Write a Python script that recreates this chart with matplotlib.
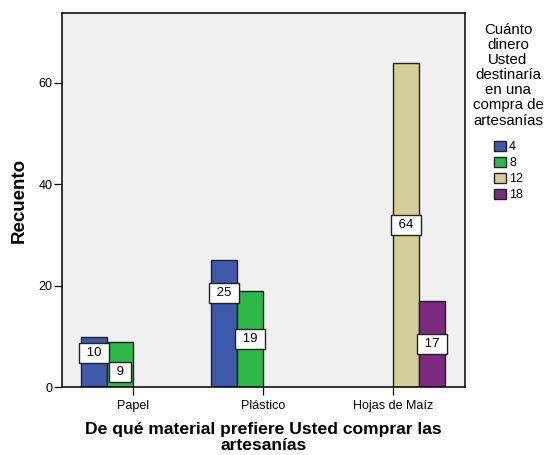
import numpy as np
import matplotlib.pyplot as plt
from matplotlib.patches import Patch

plt.rcParams['font.family'] = ['Liberation Sans', 'DejaVu Sans']

# ===== Datos =====
materiales = ['Papel', 'Plástico', 'Hojas de Maíz']
series = ['4', '8', '12', '18']
colores = ['#3E58AC', '#2EB848', '#D3CE97', '#7B2A7F']
# recuento por material (filas) y serie (columnas); None = sin barra
recuento = [
    [10, 9, None, None],
    [25, 19, None, None],
    [None, None, 64, 17],
]
# altura (en recuento) donde SPSS dejo cada etiqueta
pos_etiqueta = [
    [6.7, 3.0, None, None],
    [18.6, 9.5, None, None],
    [None, None, 32.0, 8.5],
]
titulo_leyenda = 'Cuánto\ndinero\nUsted\ndestinaría\nen una\ncompra de\nartesanías'

fig = plt.figure(figsize=(5.45, 4.55), dpi=100)
ax = fig.add_axes([0.1143, 0.1488, 0.7389, 0.8220])
ax.set_facecolor('#F0F0F0')

ancho = 0.2
offsets = (np.arange(len(series)) - 1.5) * ancho
for i, fila in enumerate(recuento):
    for j, v in enumerate(fila):
        if v is None:
            continue
        x = i + offsets[j]
        ax.bar(x, v, width=ancho, color=colores[j], edgecolor='#222222',
               linewidth=1.0, zorder=2)
        ax.text(x, pos_etiqueta[i][j], f' {v} ', ha='center', va='center',
                fontsize=9.5, zorder=3,
                bbox=dict(boxstyle='square,pad=0.3', facecolor='white',
                          edgecolor='#222222', linewidth=1.0))

ax.set_xlim(-0.545, 2.555)
ax.set_ylim(0, 73.7)
ax.set_xticks(range(len(materiales)))
ax.set_xticklabels(materiales, fontsize=9)
ax.set_yticks([0, 20, 40, 60])
ax.tick_params(axis='both', direction='out', length=5.5, labelsize=9,
               width=0.9, pad=1.5)
ax.tick_params(axis='x', pad=4)
for s in ax.spines.values():
    s.set_linewidth(1.1)

ax.set_ylabel('Recuento', fontsize=13.5, fontweight='bold', labelpad=8)
ax.set_xlabel('De qué material prefiere Usted comprar las\nartesanías',
              fontsize=12.6, fontweight='bold', linespacing=1.05, labelpad=7)

# ===== Leyenda =====
fig.text(0.932, 1 - 23 / 455, titulo_leyenda, ha='center', va='top',
         fontsize=10.8, linespacing=1.1, multialignment='center')
handles = [Patch(facecolor=c, edgecolor='#222222', linewidth=1.0) for c in colores]
fig.legend(handles, series, loc='upper left',
           bbox_to_anchor=(494 / 545, 1 - 141 / 455),
           frameon=False, fontsize=9,
           handlelength=0.96, handleheight=0.88, handletextpad=0.25,
           labelspacing=0.28, borderpad=0.0, borderaxespad=0.0)

fig.savefig('out.png', dpi=100)
